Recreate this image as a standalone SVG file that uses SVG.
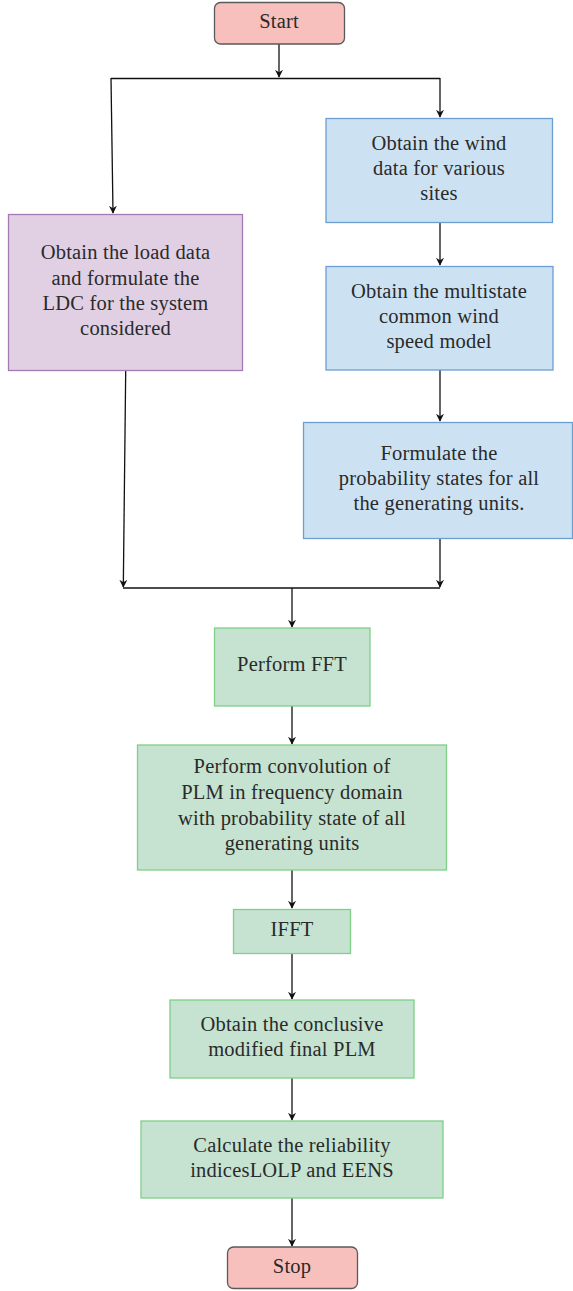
<svg xmlns="http://www.w3.org/2000/svg" width="573" height="1291" viewBox="0 0 573 1291">
<style>
.t{font-family:"Liberation Serif","Times New Roman",serif;font-size:20.5px;letter-spacing:0.2px;fill:#2a2a2a;text-anchor:middle}
.term{fill:#f8c0bc;stroke:#5a5a5a;stroke-width:1.3}
.pur{fill:#e1d0e3;stroke:#a57ab4;stroke-width:1.3}
.blu{fill:#cce2f3;stroke:#6c9fd1;stroke-width:1.3}
.grn{fill:#c5e3d0;stroke:#7fcf86;stroke-width:1.3}
.c{fill:none;stroke:#111;stroke-width:1.3}
</style>
<defs>
<marker id="ah" viewBox="0 0 10 10" refX="9" refY="5" markerWidth="8" markerHeight="8" markerUnits="userSpaceOnUse" orient="auto">
<path d="M0,0 L10,5 L0,10 L3,5 Z" fill="#111"/>
</marker>
</defs>
<g id="connectors">
<line class="c" x1="279" y1="44" x2="279" y2="77" marker-end="url(#ah)"/>
<line class="c" x1="111" y1="78.5" x2="440" y2="78.5"/>
<line class="c" x1="111" y1="78" x2="113" y2="213" marker-end="url(#ah)"/>
<line class="c" x1="440" y1="78" x2="440" y2="117" marker-end="url(#ah)"/>
<line class="c" x1="440" y1="222" x2="440" y2="265" marker-end="url(#ah)"/>
<line class="c" x1="440" y1="370" x2="440" y2="421" marker-end="url(#ah)"/>
<line class="c" x1="440" y1="538" x2="440" y2="587" marker-end="url(#ah)"/>
<line class="c" x1="125.7" y1="371" x2="123.3" y2="587" marker-end="url(#ah)"/>
<line class="c" x1="123" y1="588" x2="440" y2="588"/>
<line class="c" x1="292" y1="588" x2="292" y2="627" marker-end="url(#ah)"/>
<line class="c" x1="292" y1="706" x2="292" y2="744" marker-end="url(#ah)"/>
<line class="c" x1="292" y1="870" x2="292" y2="908" marker-end="url(#ah)"/>
<line class="c" x1="292" y1="953" x2="292" y2="999" marker-end="url(#ah)"/>
<line class="c" x1="292" y1="1078" x2="292" y2="1120" marker-end="url(#ah)"/>
<line class="c" x1="292" y1="1198" x2="292" y2="1246" marker-end="url(#ah)"/>
</g>
<g id="start"><rect class="term" x="214.5" y="2.5" width="130" height="41.5" rx="6"/><text class="t" x="279" y="28">Start</text></g>
<g id="load"><rect class="pur" x="8.5" y="214.5" width="234" height="156"/>
<text class="t" x="125.5" y="259">Obtain the load data</text>
<text class="t" x="125.5" y="285">and formulate the</text>
<text class="t" x="125.5" y="310">LDC for the system</text>
<text class="t" x="125.5" y="335">considered</text></g>
<g id="wind1"><rect class="blu" x="326" y="118.5" width="226.5" height="104"/>
<text class="t" x="439" y="150">Obtain the wind</text>
<text class="t" x="439" y="175">data for various</text>
<text class="t" x="439" y="200">sites</text></g>
<g id="wind2"><rect class="blu" x="326" y="266.5" width="227" height="103.5"/>
<text class="t" x="439" y="298">Obtain the multistate</text>
<text class="t" x="439" y="323">common wind</text>
<text class="t" x="439" y="348">speed model</text></g>
<g id="prob"><rect class="blu" x="303.5" y="422.5" width="269" height="116"/>
<text class="t" x="439" y="460">Formulate the</text>
<text class="t" x="439" y="485">probability states for all</text>
<text class="t" x="439" y="510">the generating units.</text></g>
<g id="fft"><rect class="grn" x="214.5" y="628" width="155.5" height="78"/>
<text class="t" x="292" y="671">Perform FFT</text></g>
<g id="conv"><rect class="grn" x="137.5" y="745" width="309" height="125"/>
<text class="t" x="292" y="773">Perform convolution of</text>
<text class="t" x="292" y="799">PLM in frequency domain</text>
<text class="t" x="292" y="825">with probability state of all</text>
<text class="t" x="292" y="850">generating units</text></g>
<g id="ifft"><rect class="grn" x="233.5" y="909.5" width="117" height="44"/>
<text class="t" x="292" y="936">IFFT</text></g>
<g id="final"><rect class="grn" x="170" y="1000" width="244" height="78"/>
<text class="t" x="292" y="1031">Obtain the conclusive</text>
<text class="t" x="292" y="1056">modified final PLM</text></g>
<g id="calc"><rect class="grn" x="141" y="1121" width="302" height="77"/>
<text class="t" x="292" y="1152">Calculate the reliability</text>
<text class="t" x="292" y="1177">indicesLOLP and EENS</text></g>
<g id="stop"><rect class="term" x="227.5" y="1247" width="130" height="41.5" rx="6"/><text class="t" x="292" y="1273">Stop</text></g>
</svg>
